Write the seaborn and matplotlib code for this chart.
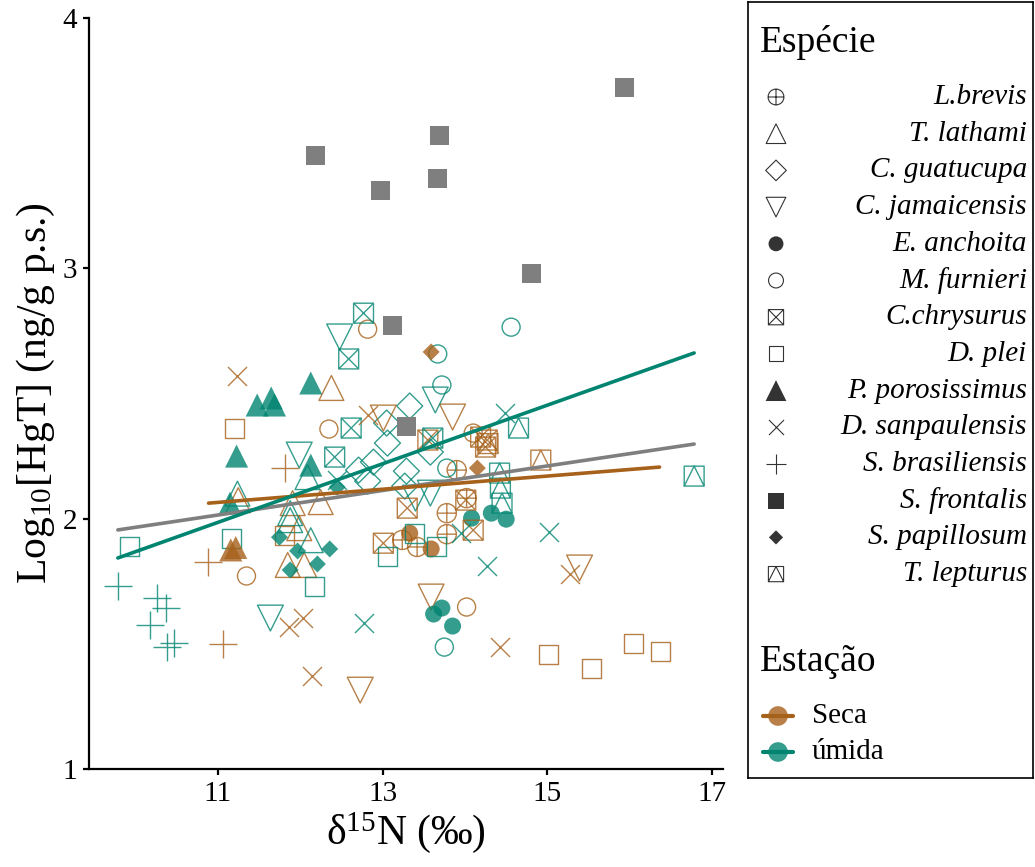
import numpy as np
import pandas as pd
import matplotlib
matplotlib.use("Agg")
import matplotlib.pyplot as plt
from matplotlib.path import Path
import seaborn as sns

sns.set_theme(style="ticks")
plt.rcParams['font.family'] = ['Liberation Serif', 'DejaVu Serif']
plt.rcParams['mathtext.fontset'] = 'custom'
plt.rcParams['mathtext.rm'] = 'Liberation Serif'
plt.rcParams['mathtext.it'] = 'Liberation Serif:italic'

# ---------------- data (d15N, log10 HgT, season S=Seca / U=umida) ----------------
lbrevis_x = [13.90, 13.78, 13.78, 13.42, 13.24, 14.02]
lbrevis_y = [2.194, 2.022, 1.938, 1.887, 1.915, 2.082]
lbrevis_s = "SSSSSS"

tlathami_x = [12.38, 11.91, 12.25, 11.99, 11.85, 12.05, 11.25, 12.09, 11.88, 12.13, 11.88, 11.24]
tlathami_y = [2.522, 2.062, 2.066, 1.962, 1.815, 1.815, 2.074, 2.166, 1.994, 1.914, 2.022, 2.100]
tlathami_s = "SSSSSSSUUUUU"

cguatucupa_x = [13.33, 13.05, 13.06, 13.58, 12.89, 13.29, 12.82, 13.27, 12.71]
cguatucupa_y = [2.450, 2.382, 2.302, 2.266, 2.226, 2.190, 2.150, 2.130, 2.194]
cguatucupa_s = "UUUUUUUUU"

cjamaicensis_x = [12.48, 11.99, 13.64, 11.64, 13.40, 13.58, 13.01, 13.85, 12.73, 13.59, 15.39]
cjamaicensis_y = [2.726, 2.254, 2.474, 1.603, 2.082, 2.102, 2.402, 2.406, 1.315, 1.687, 1.803]
cjamaicensis_s = "UUUUUUSSSSS"

eanchoita_x = [14.08, 14.32, 14.50, 13.62, 13.72, 13.85, 13.33, 13.59]
eanchoita_y = [2.002, 2.022, 1.998, 1.619, 1.643, 1.571, 1.942, 1.879]
eanchoita_s = "UUUUUUSS"

mfurnieri_x = [14.56, 13.67, 13.72, 13.78, 13.75, 12.82, 12.35, 11.35, 14.02, 14.10]
mfurnieri_y = [2.765, 2.658, 2.534, 2.202, 1.487, 2.757, 2.358, 1.771, 1.647, 2.342]
mfurnieri_s = "UUUUUSSSSS"

cchrysurus_x = [12.77, 12.59, 12.62, 12.42, 13.61, 13.55, 14.19, 14.25, 14.27, 13.30, 14.01, 14.10, 13.01]
cchrysurus_y = [2.821, 2.638, 2.362, 2.246, 2.322, 2.314, 2.326, 2.286, 2.314, 2.042, 2.074, 1.954, 1.902]
cchrysurus_s = "UUUUUSSSSSSSS"

dplei_x = [11.21, 15.01, 15.53, 16.04, 16.37, 11.81, 9.93, 11.17, 12.18, 13.06, 13.65, 13.39]
dplei_y = [2.362, 1.459, 1.403, 1.503, 1.471, 1.934, 1.887, 1.922, 1.731, 1.847, 1.887, 1.942]
dplei_s = "SSSSSSUUUUUU"

pporo_x = [12.13, 11.48, 11.65, 11.69, 11.23, 12.13, 11.15, 11.16, 11.22]
pporo_y = [2.542, 2.454, 2.482, 2.454, 2.250, 2.214, 2.062, 1.875, 1.885]
pporo_s = "UUUUUUUSS"

dsanp_x = [11.24, 12.82, 12.03, 11.87, 12.14, 14.42, 15.28, 12.78, 14.27, 15.02, 14.48, 13.95, 12.45]
dsanp_y = [2.570, 2.414, 1.603, 1.567, 1.371, 1.487, 1.779, 1.583, 1.811, 1.946, 2.422, 1.942, 2.154]
dsanp_s = "SSSSSSSUUUUUU"

sbras_x = [9.79, 10.27, 10.37, 10.18, 10.39, 10.47, 11.07, 10.88, 11.82]
sbras_y = [1.731, 1.683, 1.643, 1.575, 1.487, 1.503, 1.499, 1.827, 2.202]
sbras_s = "UUUUUUSSS"

sfront_x = [15.93, 12.19, 12.98, 13.69, 13.67, 14.81, 13.12, 13.29]
sfront_y = [3.724, 3.449, 3.309, 3.529, 3.357, 2.981, 2.773, 2.370]
sfront_s = "GGGGGGGG"

spapil_x = [11.75, 11.97, 12.36, 12.21, 11.88, 12.45, 13.59, 14.15]
spapil_y = [1.926, 1.871, 1.879, 1.819, 1.795, 2.126, 2.666, 2.202]
spapil_s = "UUUUUUSS"

tlept_x = [16.78, 14.65, 14.43, 14.45, 14.42, 14.92, 14.28]
tlept_y = [2.170, 2.362, 2.122, 2.062, 2.182, 2.234, 2.300]
tlept_s = "UUUUUSS"

# fitted regression lines
fit_all_x = [9.79, 16.78]
fit_all_y = [1.955, 2.298]
fit_umida_x = [9.79, 16.78]
fit_umida_y = [1.843, 2.662]
fit_seca_x = [10.89, 16.36]
fit_seca_y = [2.062, 2.206]

species_names = ["L.brevis", "T. lathami", "C. guatucupa", "C. jamaicensis", "E. anchoita",
                 "M. furnieri", "C.chrysurus", "D. plei", "P. porosissimus", "D. sanpaulensis",
                 "S. brasiliensis", "S. frontalis", "S. papillosum", "T. lepturus"]
season_names = ["Seca", "úmida"]

# ---------------- styles ----------------
SECA = "#A6611A"
UMIDA = "#018571"
GRAY = "#7F7F7F"
KEY = "#333333"
colors = {"S": SECA, "U": UMIDA, "G": GRAY}

M, L, C = Path.MOVETO, Path.LINETO, Path.CLOSEPOLY
sq = Path([(-1, -1), (1, -1), (1, 1), (-1, 1), (-1, -1)], [M, L, L, L, C])
circle_plus = Path.make_compound_path(
    Path.unit_circle(), Path([(-1, 0), (1, 0), (0, -1), (0, 1)], [M, L, M, L]))
square_x = Path.make_compound_path(
    sq, Path([(-1, -1), (1, 1), (-1, 1), (1, -1)], [M, L, M, L]))
square_tri = Path.make_compound_path(
    sq, Path([(-1, -1), (0, 1), (1, -1)], [M, L, L]))

# marker, kind ('open', 'fill', 'line'), plot size, legend size
styles = [
    (circle_plus, "open", 190, 130),
    ("^", "open", 320, 200),
    ("D", "open", 175, 110),
    ("v", "open", 345, 200),
    ("o", "fill", 150, 115),
    ("o", "open", 168, 115),
    (square_x, "open", 205, 120),
    ("s", "open", 187, 115),
    ("^", "fill", 275, 225),
    ("x", "line", 187, 117),
    ("+", "line", 378, 228),
    ("s", "fill", 187, 133),
    ("D", "fill", 75, 52),
    (square_tri, "open", 205, 120),
]

data_sets = [
    (lbrevis_x, lbrevis_y, lbrevis_s), (tlathami_x, tlathami_y, tlathami_s),
    (cguatucupa_x, cguatucupa_y, cguatucupa_s), (cjamaicensis_x, cjamaicensis_y, cjamaicensis_s),
    (eanchoita_x, eanchoita_y, eanchoita_s), (mfurnieri_x, mfurnieri_y, mfurnieri_s),
    (cchrysurus_x, cchrysurus_y, cchrysurus_s), (dplei_x, dplei_y, dplei_s),
    (pporo_x, pporo_y, pporo_s), (dsanp_x, dsanp_y, dsanp_s),
    (sbras_x, sbras_y, sbras_s), (sfront_x, sfront_y, sfront_s),
    (spapil_x, spapil_y, spapil_s), (tlept_x, tlept_y, tlept_s),
]

rows = []
for name, (xs, ys, ss) in zip(species_names, data_sets):
    for x, y, s in zip(xs, ys, ss):
        rows.append((name, x, y, s))
df = pd.DataFrame(rows, columns=["species", "d15n", "loghg", "season"])


def style_kws(kind, c, lw=1.0):
    if kind == "open":
        return dict(facecolor="none", edgecolor=c, linewidth=lw)
    if kind == "fill":
        return dict(edgecolor="none", linewidth=0)
    return dict(linewidth=lw)


# ---------------- figure ----------------
fig = plt.figure(figsize=(10.35, 8.67), dpi=100)
ax = fig.add_axes([89 / 1035, 98 / 867, 634 / 1035, 751 / 867])

for name, (mk, kind, size, _) in zip(species_names, styles):
    sub = df[df["species"] == name]
    for code, grp in sub.groupby("season"):
        c = colors[code]
        alpha = 1.0 if code == "G" else 0.8
        sns.scatterplot(x=grp["d15n"].to_numpy(), y=grp["loghg"].to_numpy(), ax=ax,
                        marker=mk, s=size, color=c, alpha=alpha, legend=False,
                        zorder=2, **style_kws(kind, c))

sns.lineplot(x=fit_all_x, y=fit_all_y, ax=ax, color=GRAY, linewidth=2.6, zorder=3)
sns.lineplot(x=fit_seca_x, y=fit_seca_y, ax=ax, color=SECA, linewidth=2.6, zorder=3)
sns.lineplot(x=fit_umida_x, y=fit_umida_y, ax=ax, color=UMIDA, linewidth=2.6, zorder=3)

ax.set_xlim(9.44, 17.13)
ax.set_ylim(1, 4)
ax.set_xticks([11, 13, 15, 17])
ax.set_yticks([1, 2, 3, 4])
sns.despine(ax=ax)
for sp in ["left", "bottom"]:
    ax.spines[sp].set_linewidth(1.6)
    ax.spines[sp].set_color("black")
ax.tick_params(axis="both", length=4.5, width=1.6, colors="black", labelsize=21, pad=4)
ax.set_xlabel("δ$^{15}$N (‰)", fontsize=30, color="black", labelpad=2)
ax.set_ylabel("Log$_{10}$[HgT] (ng/g p.s.)", fontsize=30, color="black", labelpad=4)

# ---------------- legend panel ----------------
lax = fig.add_axes([748 / 1035, 89 / 867, 285 / 1035, 776 / 867])
lax.set_xlim(0, 285)
lax.set_ylim(776, 0)
lax.set_xticks([])
lax.set_yticks([])
lax.set_facecolor("white")
for sp in lax.spines.values():
    sp.set_visible(True)
    sp.set_linewidth(1.2)
    sp.set_color("black")

lax.text(12, 40, "Espécie", fontsize=27, ha="left", va="center", color="black")
y0, step = 95, 36.7
for i, (name, (mk, kind, _, lsize)) in enumerate(zip(species_names, styles)):
    yy = y0 + i * step
    lax.scatter([28], [yy], marker=mk, s=lsize, color=KEY, **style_kws(kind, KEY, 0.8))
    lax.text(279, yy, name, fontsize=21, style="italic", ha="right", va="center", color="black")

lax.text(12, 660, "Estação", fontsize=27, ha="left", va="center", color="black")
for i, (lab, c) in enumerate(zip(season_names, [SECA, UMIDA])):
    yy = 714 + i * 36
    lax.scatter([30], [yy], marker="o", s=200, color=c, alpha=0.8, edgecolor="none", zorder=2)
    lax.plot([15, 45], [yy, yy], color=c, linewidth=3.0, zorder=3)
    lax.text(64, yy, lab, fontsize=21, ha="left", va="center", color="black")

fig.savefig("out.png", dpi=100)
